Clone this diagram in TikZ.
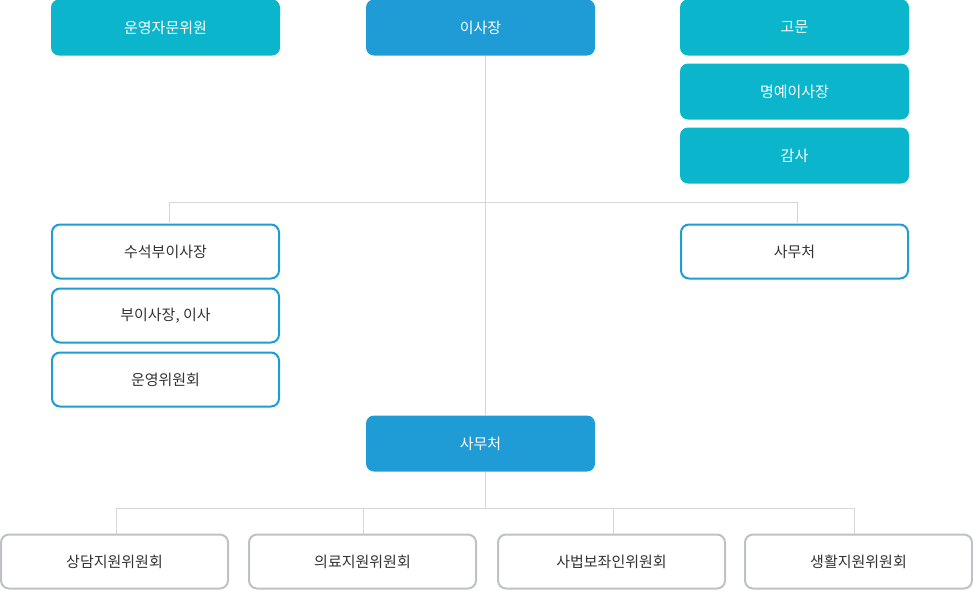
\documentclass[tikz,border=0pt]{standalone}
\usepackage{fontspec}
\setmainfont{Noto Sans CJK KR}
\usepackage{xcolor}
\usepackage{tikz}

\definecolor{teal}{RGB}{11,182,204}
\definecolor{boardblue}{RGB}{31,155,214}
\definecolor{edgegray}{RGB}{190,194,198}
\definecolor{linegray}{RGB}{215,215,215}
\definecolor{textgray}{RGB}{51,51,51}

\tikzset{
  solidbox/.style={rounded corners=6pt, minimum width=171.75pt, minimum height=42pt, inner sep=0.75pt,
    text=white, font=\fontsize{11.25}{13}\selectfont},
  tealbox/.style={solidbox, fill=teal},
  bluebox/.style={solidbox, fill=boardblue},
  linebox/.style={rounded corners=6pt, minimum width=170.25pt, minimum height=40.5pt, inner sep=0.75pt,
    draw=boardblue, line width=1.5pt, fill=white, text=textgray, font=\fontsize{11.25}{13}\selectfont},
  graybox/.style={linebox, draw=edgegray},
  link/.style={draw=linegray, line width=0.75pt}
}

\begin{document}
\begin{tikzpicture}[x=0.75pt,y=0.75pt,yscale=-1,xscale=1]
\useasboundingbox (0,0) rectangle (973,590);
% Branch points of the connectors
\coordinate (ta) at (485,202);
\coordinate (tb) at (485,508);
\coordinate (bl) at (169,202);
\coordinate (br) at (797,202);
\coordinate (c1) at (116,508);
\coordinate (c2) at (363,508);
\coordinate (c3) at (613,508);
\coordinate (c4) at (854,508);
% Top row
\node [tealbox] (advisory) at (165.5,27.5) {운영자문위원};
\node [bluebox] (chair) at (480.5,27.5) {이사장};
\node [tealbox] (adviser) at (794.5,27.5) {고문};
\node [tealbox] (honor) at (794.5,91.5) {명예이사장};
\node [tealbox] (audit) at (794.5,155.5) {감사};
% Middle rows
\node [linebox] (seniorvp) at (165.5,251.5) {수석부이사장};
\node [linebox] (vp) at (165.5,315.5) {부이사장, 이사};
\node [linebox] (steering) at (165.5,379.5) {운영위원회};
\node [linebox] (office) at (794.5,251.5) {사무처};
\node [bluebox] (secretariat) at (480.5,443.5) {사무처};
% Bottom row
\node [graybox] (counsel) at (114.5,561.5) {상담지원위원회};
\node [graybox] (medical) at (362.5,561.5) {의료지원위원회};
\node [graybox] (legal) at (611.5,561.5) {사법보좌인위원회};
\node [graybox] (living) at (858.5,561.5) {생활지원위원회};
% Connectors
\draw [link] (chair.south -| ta) -- (secretariat.north -| ta);
\draw [link] (bl) -- (br);
\draw [link] (bl) -- (bl |- seniorvp.north);
\draw [link] (br) -- (br |- office.north);
\draw [link] (secretariat.south -| tb) -- (tb);
\draw [link] (c1) -- (c4);
\draw [link] (c1) -- (c1 |- counsel.north);
\draw [link] (c2) -- (c2 |- medical.north);
\draw [link] (c3) -- (c3 |- legal.north);
\draw [link] (c4) -- (c4 |- living.north);
\end{tikzpicture}
\end{document}
